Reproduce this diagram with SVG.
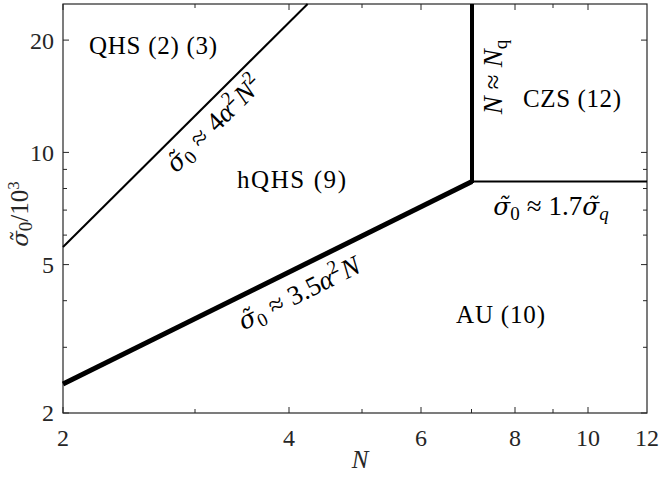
<svg xmlns="http://www.w3.org/2000/svg" width="660" height="477" viewBox="0 0 660 477">
<style>
text{font-family:"Liberation Serif","DejaVu Serif",serif;fill:#262626;font-size:24px}
.lbl{font-size:25px;fill:#000}
.m{font-size:27px;fill:#000}
.i{font-style:italic}
.g{font-family:"DejaVu Serif",serif;font-style:italic;font-size:0.92em}
.s{font-size:19px}
.tick{stroke:#262626;stroke-width:1;fill:none}
.ax{stroke:#262626;stroke-width:1.2;fill:none}
.bd{stroke:#000;fill:none;stroke-linejoin:round}
</style>
<rect x="0" y="0" width="660" height="477" fill="#fff"/>
<g id="axes">
<rect class="ax" x="63" y="4" width="584" height="409"/>
<path class="tick" d="M63,413v-6M289,413v-6M421,413v-6M515,413v-6M588,413v-6M195,413v-4M362,413v-4M471.5,413v-4M553,413v-4
M63,4v6M289,4v6M421,4v6M515,4v6M588,4v6M195,4v4M362,4v4M471.5,4v4M553,4v4
M63,413h6M63,264.6h6M63,152.4h6M63,40.1h6M63,347.3h4M63,300.7h4M63,235.1h4M63,210.1h4M63,188.5h4M63,169.4h4
M647,413h-6M647,264.6h-6M647,152.4h-6M647,40.1h-6M647,347.3h-4M647,300.7h-4M647,235.1h-4M647,210.1h-4M647,188.5h-4M647,169.4h-4"/>
<g text-anchor="middle">
<text x="63" y="446">2</text>
<text x="289" y="446">4</text>
<text x="421" y="446">6</text>
<text x="515" y="446">8</text>
<text x="588" y="446">10</text>
<text x="647" y="446">12</text>
</g>
<g text-anchor="end">
<text x="54" y="421">2</text>
<text x="54" y="273">5</text>
<text x="54" y="161">10</text>
<text x="54" y="48.5">20</text>
</g>
<text class="i" x="360" y="468" text-anchor="middle" style="font-size:25px">N</text>
<text style="font-size:25px" transform="translate(28,214) rotate(-90)" text-anchor="middle"><tspan class="g">σ̃</tspan><tspan class="s" dy="4">0</tspan><tspan dy="-4">/10</tspan><tspan class="s" style="font-size:17px" dy="-9">3</tspan></text>
</g>
<g id="connectors">
<path class="bd" stroke-width="2" d="M63,247L307.6,4"/>
<path class="bd" stroke-width="5" d="M63,384L472,181.5"/>
<path class="bd" stroke-width="4" d="M472,4V183"/>
<path class="bd" stroke-width="2.2" d="M472,181.5H647"/>
</g>
<g id="QHS"><text class="lbl" x="89" y="54" textLength="128">QHS (2) (3)</text></g>
<g id="hQHS"><text class="lbl" x="237" y="188" textLength="109">hQHS (9)</text></g>
<g id="CZS"><text class="lbl" x="523" y="107" textLength="98">CZS (12)</text></g>
<g id="AU"><text class="lbl" x="456" y="323" textLength="89">AU (10)</text></g>
<g id="label-qhs-boundary"><text class="m" transform="translate(220,130) rotate(-44.8)" text-anchor="middle"><tspan class="g">σ̃</tspan><tspan class="s" dy="5">0</tspan><tspan dx="8" dy="-5">≈</tspan><tspan dx="8">4</tspan><tspan class="i">α</tspan><tspan class="s" dy="-11">2</tspan><tspan class="i" dx="2" dy="11">N</tspan><tspan class="s" dy="-11">2</tspan></text></g>
<g id="label-au-boundary"><text class="m" transform="translate(303,301) rotate(-26.4)" text-anchor="middle"><tspan class="g">σ̃</tspan><tspan class="s" dy="5">0</tspan><tspan dx="7" dy="-5">≈</tspan><tspan dx="7">3.5</tspan><tspan class="i">α</tspan><tspan class="s" dy="-11">2</tspan><tspan class="i" dx="2" dy="11">N</tspan></text></g>
<g id="label-nq"><text class="m" transform="translate(502,77) rotate(-90)" text-anchor="middle"><tspan class="i">N</tspan><tspan dx="7">≈</tspan><tspan class="i" dx="7">N</tspan><tspan class="s" dy="5">q</tspan></text></g>
<g id="label-sigmaq"><text class="m" x="551" y="215" text-anchor="middle"><tspan class="g">σ̃</tspan><tspan class="s" dy="5">0</tspan><tspan dx="7" dy="-5">≈</tspan><tspan dx="7">1.7</tspan><tspan class="g">σ̃</tspan><tspan class="s i" dy="5">q</tspan></text></g>
</svg>
